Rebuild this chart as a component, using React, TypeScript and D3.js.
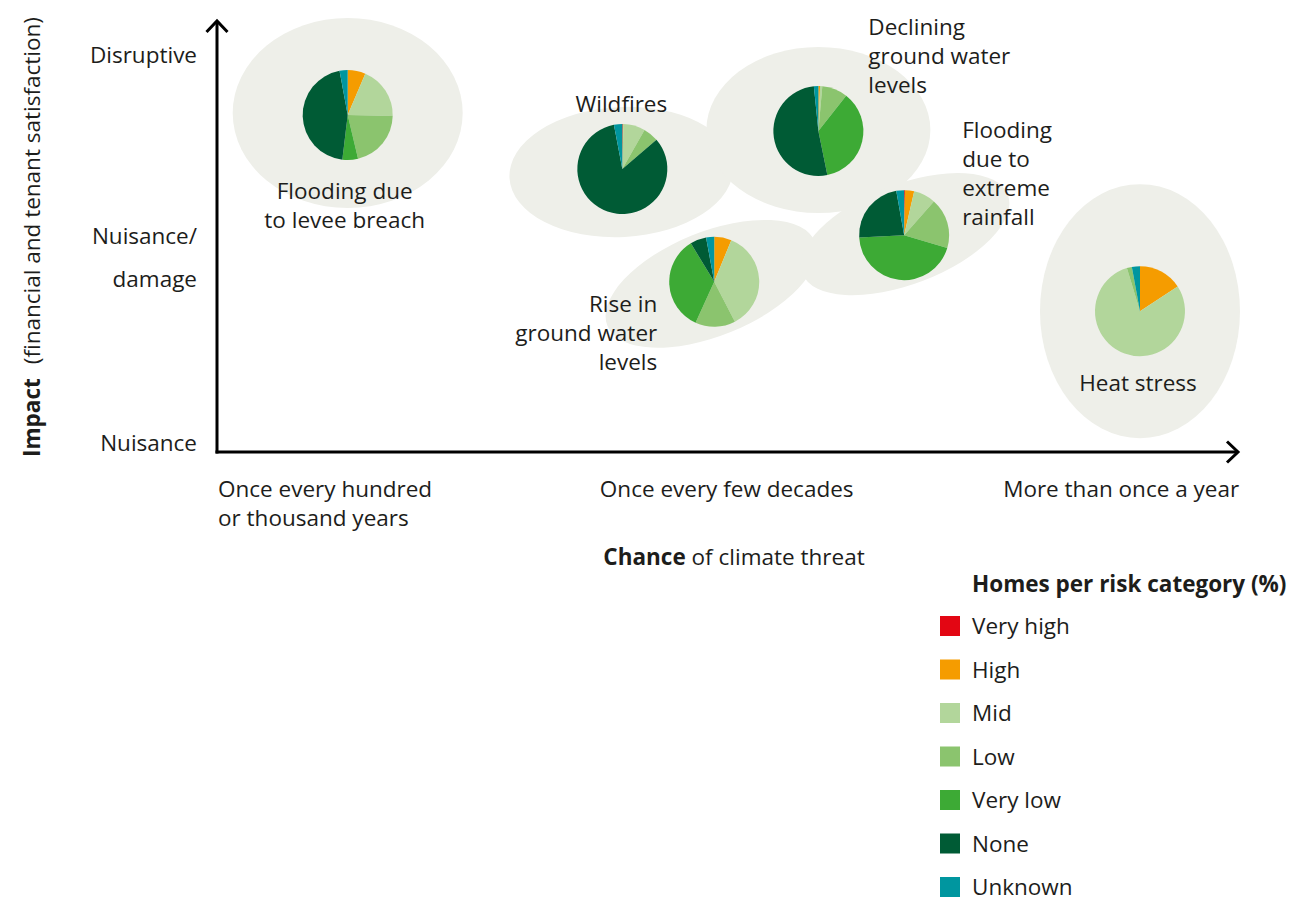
import React from "react";
import * as d3 from "d3";

// ---------- data ----------
const categories = ["Very high", "High", "Mid", "Low", "Very low", "None", "Unknown"];
const categoryColors = ["#E30613", "#F59C00", "#B2D69B", "#8BC46E", "#3DAA35", "#005B35", "#00969F"];

const threats = [
  "Flooding due to levee breach",
  "Wildfires",
  "Declining ground water levels",
  "Rise in ground water levels",
  "Flooding due to extreme rainfall",
  "Heat stress",
];
// chance (0 = once every hundred/thousand years, 100 = more than once a year)
const chance = [12.8, 39.7, 58.9, 48.7, 67.3, 90.4];
// impact (0 = nuisance, 100 = top of axis)
const impact = [78, 65.5, 74.3, 39.4, 50.2, 32.6];
// homes per risk category (%) in category order
const shares = [
  [0, 6.4, 18.9, 21.0, 5.6, 45.2, 2.9],
  [0.2, 0.2, 7.8, 5.5, 0, 83.3, 3.0],
  [0, 0.6, 0.8, 9.2, 36.2, 51.6, 1.6],
  [0, 6.2, 36.2, 14.4, 34.5, 5.8, 2.9],
  [0.3, 3.3, 7.9, 18.1, 44.6, 23.0, 2.8],
  [0, 15.8, 79.5, 1.8, 0, 0, 2.9],
];

const xTickLabels = [["Once every hundred", "or thousand years"], ["Once every few decades"], ["More than once a year"]];
const xTickValues = [0, 37.4, 76.9];
const yTickLabels = [["Disruptive"], ["Nuisance/", "damage"], ["Nuisance"]];
const yTickValues = [92, 45, 2];

// ---------- layout ----------
const W = 1304, H = 903;
const FONT = "'Open Sans', sans-serif";
const FS = 22.5;
const TEXT = "#1d1d1b";
const HALO = "#EEEFE9";
const X0 = 217, X1 = 1238, Y0 = 452, Y1 = 20;
const PIE_R = 45;

// label lines + placement relative to pie centre (dx, dy of first line baseline), anchor
const labelLayout = [
  { lines: ["Flooding due", "to levee breach"], dx: -3, dy: 84, anchor: "middle" },
  { lines: ["Wildfires"], dx: -1, dy: -57, anchor: "middle" },
  { lines: ["Declining", "ground water", "levels"], dx: 50, dy: -96, anchor: "start" },
  { lines: ["Rise in", "ground water", "levels"], dx: -57, dy: 30, anchor: "end" },
  { lines: ["Flooding", "due to", "extreme", "rainfall"], dx: 58, dy: -97, anchor: "start" },
  { lines: ["Heat stress"], dx: -2, dy: 80, anchor: "middle" },
];
// halo ellipses relative to pie centre
const halos = [
  { dx: 0, dy: -2, rx: 115, ry: 95, rot: 0 },
  { dx: -1, dy: 3, rx: 112, ry: 65, rot: -3 },
  { dx: 0, dy: -1, rx: 112, ry: 83, rot: 0 },
  { dx: -3, dy: 2, rx: 112, ry: 52, rot: -22 },
  { dx: 1, dy: -1, rx: 110, ry: 50, rot: -21 },
  { dx: 0, dy: 0, rx: 100, ry: 127, rot: 0 },
];
const LINE_H = 29;

export default function App() {
  const x = d3.scaleLinear().domain([0, 100]).range([X0, X1]);
  const y = d3.scaleLinear().domain([0, 100]).range([Y0, Y1]);
  const pie = d3.pie<number>().sort(null).value((d) => d);
  const arc = d3.arc<d3.PieArcDatum<number>>().innerRadius(0).outerRadius(PIE_R);

  return (
    <svg width={W} height={H} style={{ position: "absolute", left: 0, top: 0, background: "#fff" }} fontFamily={FONT}>
      {/* halos */}
      {threats.map((t, i) => {
        const h = halos[i];
        const cx = x(chance[i]) + h.dx, cy = y(impact[i]) + h.dy;
        return (
          <ellipse key={"h" + i} cx={cx} cy={cy} rx={h.rx} ry={h.ry} fill={HALO}
            transform={`rotate(${h.rot} ${cx} ${cy})`} />
        );
      })}
      {/* pies */}
      {threats.map((t, i) => (
        <g key={"p" + i} transform={`translate(${x(chance[i])},${y(impact[i])})`}>
          {pie(shares[i]).map((s, j) => (
            <path key={j} d={arc(s) || ""} fill={categoryColors[j]} />
          ))}
        </g>
      ))}
      {/* pie labels */}
      {threats.map((t, i) => {
        const L = labelLayout[i];
        return (
          <text key={"l" + i} x={x(chance[i]) + L.dx} y={y(impact[i]) + L.dy} textAnchor={L.anchor as any}
            fontSize={FS} fill={TEXT}>
            {L.lines.map((ln, k) => (
              <tspan key={k} x={x(chance[i]) + L.dx} dy={k === 0 ? 0 : LINE_H}>{ln}</tspan>
            ))}
          </text>
        );
      })}
      {/* axes */}
      <g stroke="#000" strokeWidth={3} fill="none" strokeLinecap="butt">
        <path d={`M${X0},${Y0 + 1.5}V${Y1 + 1}`} />
        <path d={`M${X0 - 10.5},${Y1 + 12}L${X0},${Y1 + 1}L${X0 + 10.5},${Y1 + 12}`} />
        <path d={`M${X0 - 1.5},${Y0}H${X1}`} />
        <path d={`M${X1 - 11},${Y0 - 10.5}L${X1},${Y0}L${X1 - 11},${Y0 + 10.5}`} />
      </g>
      {/* y tick labels */}
      {yTickLabels.map((lines, i) => {
        const yy = y(yTickValues[i]);
        const off = lines.length > 1 ? -((lines.length - 1) * 43) / 2 : 0;
        return (
          <text key={"yt" + i} textAnchor="end" fontSize={FS} fill={TEXT}>
            {lines.map((ln, k) => (
              <tspan key={k} x={197} y={yy + off + k * 43 + 8}>{ln}</tspan>
            ))}
          </text>
        );
      })}
      {/* x tick labels */}
      {xTickLabels.map((lines, i) => (
        <text key={"xt" + i} textAnchor="start" fontSize={FS} fill={TEXT}>
          {lines.map((ln, k) => (
            <tspan key={k} x={x(xTickValues[i]) + 1} y={497 + k * 29}>{ln}</tspan>
          ))}
        </text>
      ))}
      {/* axis titles */}
      <text x={734} y={565} textAnchor="middle" fontSize={FS} fill={TEXT}>
        <tspan fontWeight="bold">Chance</tspan> of climate threat
      </text>
      <text transform={`translate(40,237) rotate(-90)`} textAnchor="middle" fontSize={FS} fill={TEXT}>
        <tspan fontWeight="bold">Impact</tspan><tspan dx={14}>(financial and tenant satisfaction)</tspan>
      </text>
      {/* legend */}
      <text x={972} y={592} fontSize={FS} fontWeight="bold" fill={TEXT}>Homes per risk category (%)</text>
      {categories.map((c, j) => (
        <g key={"lg" + j} transform={`translate(940,${616 + j * 43.5})`}>
          <rect width={20} height={20} fill={categoryColors[j]} />
          <text x={32} y={18} fontSize={FS} fill={TEXT}>{c}</text>
        </g>
      ))}
    </svg>
  );
}
